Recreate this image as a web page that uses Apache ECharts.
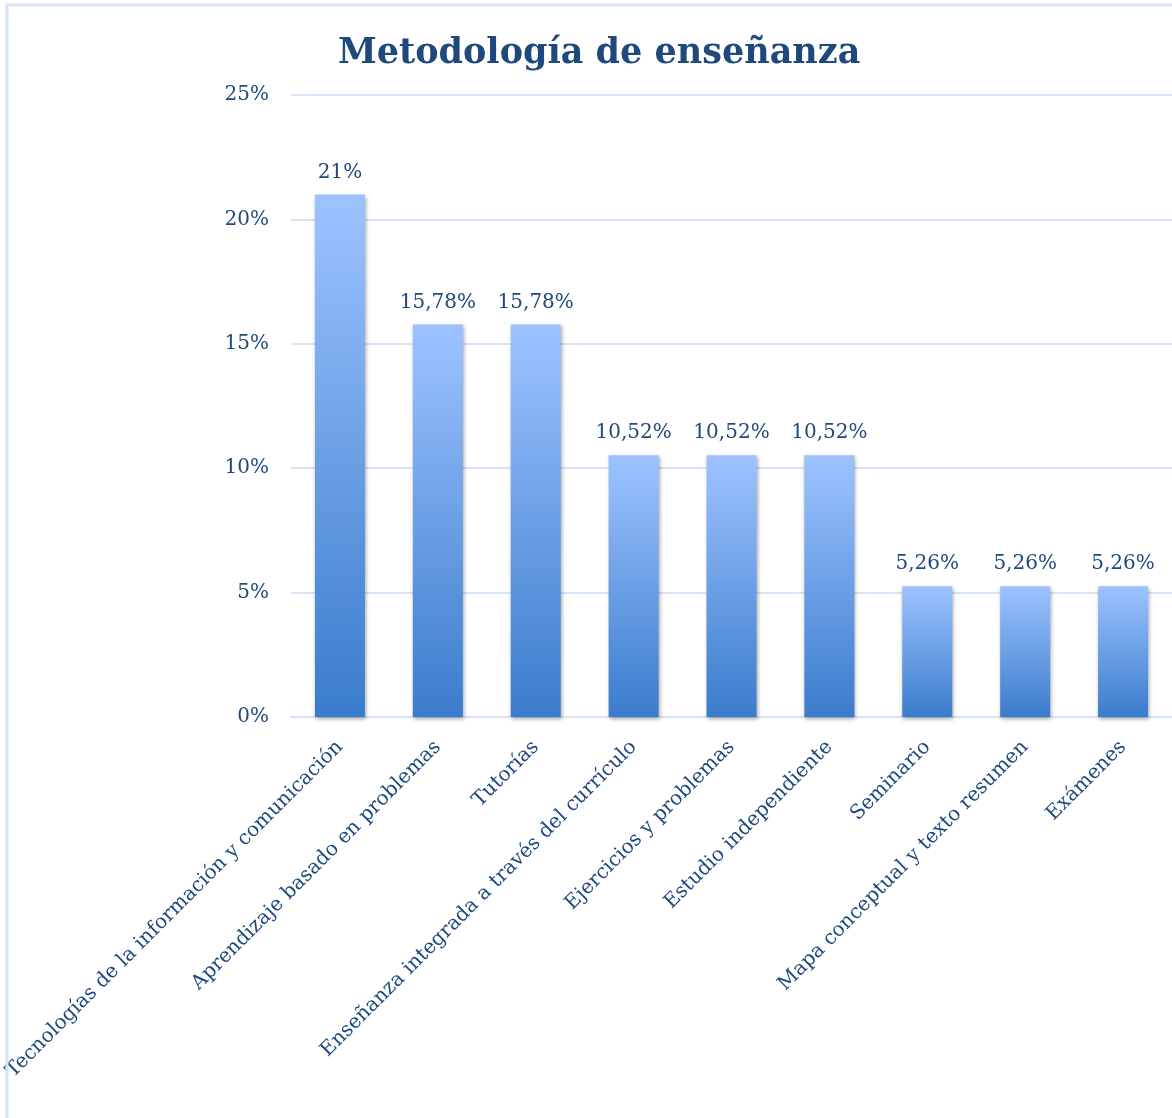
<!DOCTYPE html>
<html>
<head>
<meta charset="utf-8">
<script src="https://cdn.jsdelivr.net/npm/echarts@6/dist/echarts.min.js"></script>
<style>
  html, body { margin: 0; padding: 0; background: #fff; }
  #chart { width: 1172px; height: 1118px; }
</style>
</head>
<body>
<div id="chart"></div>
<script>
var categories = [
  "Tecnologías de la información y comunicación",
  "Aprendizaje basado en problemas",
  "Tutorías",
  "Enseñanza integrada a través del currículo",
  "Ejercicios y problemas",
  "Estudio independiente",
  "Seminario",
  "Mapa conceptual y texto resumen",
  "Exámenes"
];
var values = [21, 15.78, 15.78, 10.52, 10.52, 10.52, 5.26, 5.26, 5.26];
var yTicks = [0, 5, 10, 15, 20, 25];

var textColor = "#1F497D";
var serif = "'DejaVu Serif', 'Liberation Serif', serif";

var myChart = echarts.init(document.getElementById("chart"));

var option = {
  backgroundColor: "#fff",
  title: {
    text: "Metodología de enseñanza",
    left: 333,
    top: 31,
    textStyle: {
      color: textColor,
      fontFamily: serif,
      fontWeight: "bold",
      fontSize: 35
    }
  },
  graphic: [
    {
      type: "rect",
      shape: { x: 7, y: 5, width: 1200, height: 1200 },
      style: { fill: "none", stroke: "#D6E4F7", lineWidth: 3 },
      silent: true,
      z: 100
    }
  ],
  grid: {
    left: 291,
    right: -8,
    top: 95,
    bottom: 401,
    containLabel: false
  },
  xAxis: {
    type: "category",
    data: categories,
    axisLine: { show: true, lineStyle: { color: "#D6E4F7", width: 2 } },
    axisTick: { show: false },
    axisLabel: {
      rotate: 45,
      interval: 0,
      margin: 27,
      color: textColor,
      fontFamily: serif,
      fontSize: 20
    }
  },
  yAxis: {
    type: "value",
    min: yTicks[0],
    max: yTicks[yTicks.length - 1],
    interval: 5,
    axisLine: { show: false },
    axisTick: { show: false },
    splitLine: { lineStyle: { color: "#D6E4F7", width: 2 } },
    axisLabel: {
      margin: 22,
      color: textColor,
      fontFamily: serif,
      fontSize: 20,
      formatter: function (v) { return v + "%"; }
    }
  },
  series: [
    {
      type: "bar",
      data: values,
      barWidth: 50,
      itemStyle: {
        color: new echarts.graphic.LinearGradient(0, 0, 0, 1, [
          { offset: 0, color: "#9DC3FF" },
          { offset: 1, color: "#3A7CCC" }
        ]),
        shadowColor: "rgba(0,0,0,0.35)",
        shadowBlur: 4,
        shadowOffsetX: 1,
        shadowOffsetY: 2
      },
      label: {
        show: true,
        position: "top",
        distance: 12,
        color: textColor,
        fontFamily: serif,
        fontSize: 20,
        formatter: function (p) {
          return String(p.value).replace(".", ",") + "%";
        }
      }
    }
  ]
};

myChart.setOption(option);
</script>
</body>
</html>
